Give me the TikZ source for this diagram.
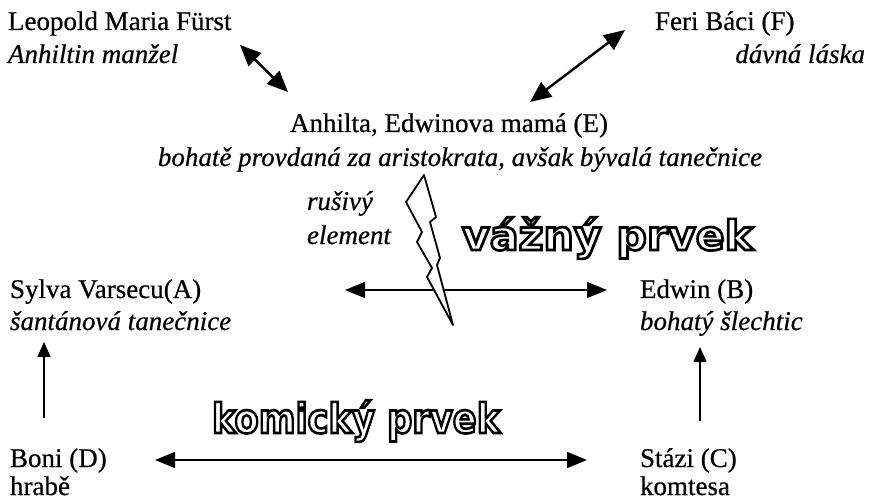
\documentclass[tikz,border=0pt]{standalone}
\usepackage{fontspec}
\setmainfont{Liberation Serif}[FakeBold=0.6]
\newfontfamily\outfont{DejaVu Sans Bold}[FakeBold=6.5]
\usepackage{graphicx}
\usetikzlibrary{arrows.meta}
\newcommand\outlinedtext[1]{{\color{white}\special{pdf:literal direct 0 G}#1}}
\tikzset{
  lbl/.style={inner sep=0pt, outer sep=0pt, font=\fontsize{27}{32}\selectfont},
  ilbl/.style={lbl, font=\fontsize{27}{32}\selectfont\itshape},
  bigtxt/.style={inner sep=0pt, outer sep=0pt, font=\outfont\fontsize{41}{46}\selectfont},
  wideline/.style={line width=1.6pt, {Triangle[length=20pt,width=16pt]}-{Triangle[length=20pt,width=16pt]}},
  diagline/.style={line width=2.4pt, {Triangle[length=21pt,width=18pt]}-{Triangle[length=21pt,width=18pt]}},
  upline/.style={line width=1.6pt, -{Triangle[length=15pt,width=13pt]}},
  bolt/.style={draw=black, fill=white, line width=1.8pt, line join=round}
}
\begin{document}
\begin{tikzpicture}[x=1pt,y=-1pt]
\useasboundingbox (0,0) rectangle (871,500);
% outlined titles
\node[bigtxt, anchor=base west] (vaz) at (462,250) {\scalebox{1.04}[1]{\outlinedtext{vážný prvek}}};
\node[bigtxt, anchor=base west] (kom) at (212,433) {\scalebox{0.86}[1]{\outlinedtext{komický prvek}}};
% texts
\node[lbl, anchor=base west] (leo) at (8,30) {Leopold Maria Fürst};
\node[ilbl, anchor=base west] (leoi) at (8,63) {Anhiltin manžel};
\node[lbl, anchor=base west] (feri) at (655,30) {Feri Báci (F)};
\node[ilbl, anchor=base east] (ferii) at (865,63) {dávná láska};
\node[lbl, anchor=base] (anh) at (449,132) {Anhilta, Edwinova mamá (E)};
\node[ilbl, anchor=base] (anhi) at (460,166) {bohatě provdaná za aristokrata, avšak bývalá tanečnice};
\node[ilbl, anchor=base west] (rus) at (307,210) {rušivý};
\node[ilbl, anchor=base west] (ele) at (307,244) {element};
\node[lbl, anchor=base west] (syl) at (10,298) {Sylva Varsecu(A)};
\node[ilbl, anchor=base west] (syli) at (10,330) {šantánová tanečnice};
\node[lbl, anchor=base west] (edw) at (640,298) {Edwin (B)};
\node[ilbl, anchor=base west] (edwi) at (640,330) {bohatý šlechtic};
\node[lbl, anchor=base west] (bon) at (10,467) {Boni (D)};
\node[lbl, anchor=base west] (boni) at (10,495) {hrabě};
\node[lbl, anchor=base west] (sta) at (640,467) {Stázi (C)};
\node[lbl, anchor=base west] (stai) at (640,495) {komtesa};
% arrow end points
\coordinate (lfA) at (240,45);  \coordinate (lfB) at (288,92);
\coordinate (fA) at (530,102);  \coordinate (fB) at (625,30);
\coordinate (abL) at (345,290); \coordinate (abR) at (607,290);
\coordinate (dcL) at (155,460); \coordinate (dcR) at (587,460);
\coordinate (dA0) at (44,418);  \coordinate (dA1) at (44,342);
\coordinate (cB0) at (700,421); \coordinate (cB1) at (700,347);
\draw[diagline] (lfA) -- (lfB);
\draw[diagline] (fA) -- (fB);
\draw[wideline] (abL) -- (abR);
\draw[wideline] (dcL) -- (dcR);
\draw[upline] (dA0) -- (dA1);
\draw[upline] (cB0) -- (cB1);
% lightning
\draw[bolt] (424,175) -- (406,202) -- (422,232) -- (417,242) -- (432,268) -- (427,277)
  -- (453,325) -- (437,265) -- (440,258) -- (430,222) -- (436,217) -- cycle;
\end{tikzpicture}
\end{document}
